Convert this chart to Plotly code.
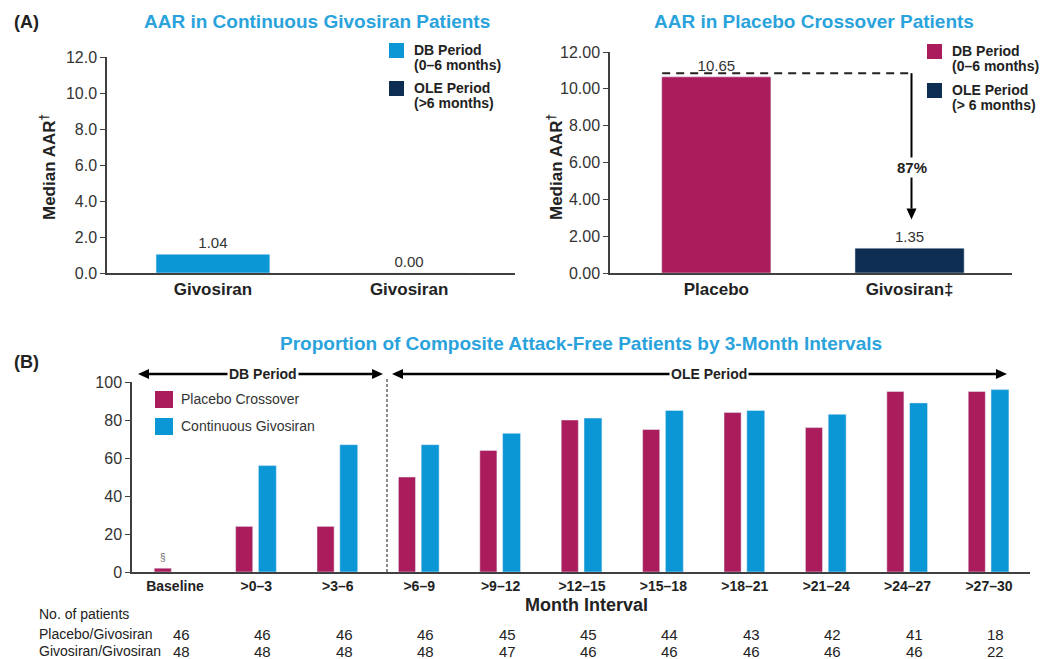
import plotly.graph_objects as go

# ---- data -------------------------------------------------------------
# Panel A (left): continuous givosiran patients, median AAR
cont_labels = ["Givosiran", "Givosiran"]
cont_db_aar = [1.04]
cont_ole_aar = [0.00]

# Panel A (right): placebo crossover patients, median AAR
cross_labels = ["Placebo", "Givosiran‡"]
cross_db_aar = [10.65]
cross_ole_aar = [1.35]
reduction_label = "87%"

# Panel B: % attack-free patients per 3-month interval
intervals = ["Baseline", ">0–3", ">3–6", ">6–9", ">9–12", ">12–15",
             ">15–18", ">18–21", ">21–24", ">24–27", ">27–30"]
placebo_crossover = [2, 24, 24, 50, 64, 80, 75, 84, 76, 95, 95]
continuous_givosiran = [None, 56, 67, 67, 73, 81, 85, 85, 83, 89, 96]
n_placebo_givosiran = [46, 46, 46, 46, 45, 45, 44, 43, 42, 41, 18]
n_givosiran_givosiran = [48, 48, 48, 48, 47, 46, 46, 46, 46, 46, 22]

# ---- style ------------------------------------------------------------
MAGENTA = "#ab1c5d"
BLUE = "#0b96d6"
NAVY = "#0e2d52"
TITLE_BLUE = "#2aa3dc"
AXIS = "#404040"
TXT = "#222222"
FONT = "Arial, Liberation Sans, sans-serif"

W, H = 1048, 659


def py(px):
    """pixel row (from top) -> paper y"""
    return 1 - px / H


def pxx(px):
    return px / W


# axis geometry (pixel extents and data ranges)
X1_PX, X1_RANGE = (107, 515), [-0.54, 1.54]
Y1_PX, Y1_RANGE = (273, 57), [0, 12]
X2_PX, X2_RANGE = (610, 1012), [-0.55, 1.53]
Y2_PX, Y2_RANGE = (273, 52), [0, 12]
X3_PX, X3_RANGE = (132, 1030), [-0.528, 10.504]
Y3_PX, Y3_RANGE = (572, 382), [0, 100]


def units_per_px(px_ext, rng):
    return (rng[1] - rng[0]) / abs(px_ext[1] - px_ext[0])


fig = go.Figure()

# ---- Panel A left -----------------------------------------------------
fig.add_trace(go.Bar(
    x=[0], y=cont_db_aar, width=0.58, marker_color=BLUE, name="DB Period",
    text=[f"{v:.2f}" for v in cont_db_aar], textposition="outside",
    textfont=dict(size=15, color="#333"), cliponaxis=False,
    xaxis="x", yaxis="y", showlegend=False))
fig.add_trace(go.Bar(
    x=[1], y=cont_ole_aar, width=0.58, marker_color=NAVY, name="OLE Period",
    text=[f"{v:.2f}" for v in cont_ole_aar], textposition="outside",
    textfont=dict(size=15, color="#333"), cliponaxis=False,
    xaxis="x", yaxis="y", showlegend=False))

# ---- Panel A right ----------------------------------------------------
fig.add_trace(go.Bar(
    x=[0], y=cross_db_aar, width=0.565, marker_color=MAGENTA, name="DB Period",
    text=[f"{v:.2f}" for v in cross_db_aar], textposition="outside",
    textfont=dict(size=15, color="#333"), cliponaxis=False,
    xaxis="x2", yaxis="y2", showlegend=False))
fig.add_trace(go.Bar(
    x=[1], y=cross_ole_aar, width=0.565, marker_color=NAVY, name="OLE Period",
    text=[f"{v:.2f}" for v in cross_ole_aar], textposition="outside",
    textfont=dict(size=15, color="#333"), cliponaxis=False,
    xaxis="x2", yaxis="y2", showlegend=False))

# ---- Panel B ----------------------------------------------------------
xi = list(range(len(intervals)))
fig.add_trace(go.Bar(
    x=xi, y=placebo_crossover, width=0.21, offset=-0.255,
    marker_color=MAGENTA, name="Placebo Crossover",
    xaxis="x3", yaxis="y3", showlegend=False))
fig.add_trace(go.Bar(
    x=xi, y=continuous_givosiran, width=0.22, offset=0.025,
    marker_color=BLUE, name="Continuous Givosiran",
    xaxis="x3", yaxis="y3", showlegend=False))

axis_common = dict(showline=True, linecolor=AXIS, linewidth=1.5,
                   showgrid=False, zeroline=False, automargin=False)

fig.update_layout(
    width=W, height=H,
    margin=dict(l=0, r=0, t=0, b=0, pad=0, autoexpand=False),
    paper_bgcolor="white", plot_bgcolor="white",
    font=dict(family=FONT, color=TXT),
    barmode="overlay",
    xaxis=dict(domain=[pxx(X1_PX[0]), pxx(X1_PX[1])], range=X1_RANGE,
               tickvals=[0, 1], ticktext=cont_labels, ticks="",
               tickfont=dict(size=17, color=TXT, family=FONT, weight="bold"),
               anchor="y", **axis_common),
    yaxis=dict(domain=[py(Y1_PX[0]), py(Y1_PX[1])], range=Y1_RANGE, dtick=2,
               tickformat=".1f", ticks="outside", ticklen=5, tickcolor=AXIS,
               tickfont=dict(size=16, color="#333"), anchor="x",
               **axis_common),
    xaxis2=dict(domain=[pxx(X2_PX[0]), pxx(X2_PX[1])], range=X2_RANGE,
                tickvals=[0, 1], ticktext=cross_labels, ticks="",
                tickfont=dict(size=17, color=TXT, family=FONT, weight="bold"),
                anchor="y2", **axis_common),
    yaxis2=dict(domain=[py(Y2_PX[0]), py(Y2_PX[1])], range=Y2_RANGE, dtick=2,
                tickformat=".2f", ticks="outside", ticklen=5, tickcolor=AXIS,
                tickfont=dict(size=16, color="#333"), anchor="x2",
                **axis_common),
    xaxis3=dict(domain=[pxx(X3_PX[0]), pxx(X3_PX[1])], range=X3_RANGE,
                tickvals=xi, ticktext=intervals, ticks="",
                tickfont=dict(size=14, color=TXT, family=FONT, weight="bold"),
                anchor="y3", **axis_common),
    yaxis3=dict(domain=[py(Y3_PX[0]), py(Y3_PX[1])], range=Y3_RANGE, dtick=20,
                ticks="outside", ticklen=5, tickcolor=AXIS,
                tickfont=dict(size=16, color="#333"), anchor="x3",
                **axis_common),
)

ann = []
shapes = []


def text(x, y, s, size=14, bold=False, color=TXT, xanchor="left",
         xref="paper", yref="paper", **kw):
    ann.append(dict(x=x, y=y, xref=xref, yref=yref, text=s, showarrow=False,
                    xanchor=xanchor, yanchor="middle",
                    font=dict(size=size, color=color, family=FONT,
                              weight="bold" if bold else "normal"), **kw))


# panel letters and titles
text(pxx(12), py(22), "(A)", size=18, bold=True)
text(pxx(12), py(362), "(B)", size=18, bold=True)
text(pxx(317), py(22), "AAR in Continuous Givosiran Patients", size=19,
     bold=True, color=TITLE_BLUE, xanchor="center")
text(pxx(814), py(22), "AAR in Placebo Crossover Patients", size=19,
     bold=True, color=TITLE_BLUE, xanchor="center")
text(pxx(581), py(343),
     "Proportion of Composite Attack-Free Patients by 3-Month Intervals",
     size=19, bold=True, color=TITLE_BLUE, xanchor="center")

# y-axis titles for panel A
for xc in (48, 555):
    text(pxx(xc), py(167), "Median AAR<sup>†</sup>", size=17, bold=True,
         xanchor="center", textangle=-90)


# legends for panel A (swatch + two-line label)
def legend_item(x0, y0, size, color, line1, line2):
    shapes.append(dict(type="rect", xref="paper", yref="paper",
                       x0=pxx(x0), x1=pxx(x0 + size),
                       y0=py(y0 + size), y1=py(y0),
                       fillcolor=color, line=dict(width=0)))
    text(pxx(x0 + size + 8), py(y0 + 7), line1, size=14, bold=True)
    text(pxx(x0 + size + 8), py(y0 + 22), line2, size=14, bold=True)


legend_item(389, 43, 15, BLUE, "DB Period", "(0–6 months)")
legend_item(389, 81, 15, NAVY, "OLE Period", "(>6 months)")
legend_item(927, 44, 15, MAGENTA, "DB Period", "(0–6 months)")
legend_item(927, 83, 15, NAVY, "OLE Period", "(> 6 months)")


def head_path(tip_x, tip_y, dx, dy, half_x, half_y):
    """triangle with tip at (tip_x, tip_y) and base centred at tip-(dx,dy)"""
    bx, by = tip_x - dx, tip_y - dy
    return (f"M {tip_x},{tip_y} L {bx + half_x},{by + half_y} "
            f"L {bx - half_x},{by - half_y} Z")


# reduction arrow in placebo crossover chart
ux2 = units_per_px(X2_PX, X2_RANGE)
uy2 = units_per_px(Y2_PX, Y2_RANGE)
ref_level = cross_db_aar[0] + 0.2
arrow_x = 1.01
tip_y = cross_ole_aar[0] + 1.55
head_len = 11 * uy2
shapes.append(dict(type="line", xref="x2", yref="y2",
                   x0=-0.28, x1=arrow_x, y0=ref_level, y1=ref_level,
                   line=dict(color="#222", width=2, dash="8px,6px")))
shapes.append(dict(type="line", xref="x2", yref="y2",
                   x0=arrow_x, x1=arrow_x, y0=ref_level, y1=tip_y + head_len,
                   line=dict(color="black", width=2)))
shapes.append(dict(type="path", xref="x2", yref="y2",
                   path=head_path(arrow_x, tip_y, 0, -head_len, 5 * ux2, 0),
                   fillcolor="black", line=dict(width=0)))
text(arrow_x, 5.75, reduction_label, size=15, bold=True,
     xanchor="center", xref="x2", yref="y2", bgcolor="white")

# panel B legend
for yy, col, lab in ((391, MAGENTA, "Placebo Crossover"),
                     (418, BLUE, "Continuous Givosiran")):
    shapes.append(dict(type="rect", xref="paper", yref="paper",
                       x0=pxx(155), x1=pxx(173), y0=py(yy + 17), y1=py(yy),
                       fillcolor=col, line=dict(width=0)))
    text(pxx(179), py(yy + 8), lab, size=14, color="#333")

# period separator and period arrows in panel B
ux3 = units_per_px(X3_PX, X3_RANGE)
period_split = 2.605
shapes.append(dict(type="line", xref="x3", yref="paper",
                   x0=period_split, x1=period_split, y0=py(572), y1=py(378),
                   line=dict(color="#666", width=1.5, dash="3px,2px")))
arrow_row = py(374)


def double_arrow(left, right, mid, label):
    hl = 11 * ux3
    shapes.append(dict(type="line", xref="x3", yref="paper",
                       x0=left + hl, x1=right - hl, y0=arrow_row, y1=arrow_row,
                       line=dict(color="black", width=2.5)))
    for tip, d in ((left, -hl), (right, hl)):
        shapes.append(dict(type="path", xref="x3", yref="paper",
                           path=head_path(tip, arrow_row, d, 0, 0, 5 / H),
                           fillcolor="black", line=dict(width=0)))
    text(mid, arrow_row, label, size=14, bold=True, xanchor="center",
         xref="x3", bgcolor="white")


double_arrow(-0.454, 2.556, 1.081, "DB Period")
double_arrow(2.666, 10.221, 6.56, "OLE Period")

# section symbol above the baseline bar
text(-0.15, 7.5, "§", size=10, color="#666", xanchor="center",
     xref="x3", yref="y3")

# x-axis title and number-of-patients table
text(pxx(586), py(605), "Month Interval", size=18, bold=True,
     xanchor="center")
text(pxx(37), py(614), "No. of patients", size=14)
text(pxx(37), py(634), "Placebo/Givosiran", size=14)
text(pxx(37), py(651), "Givosiran/Givosiran", size=14)
for i in xi:
    text(i + 0.08, py(634), str(n_placebo_givosiran[i]), size=15,
         xanchor="center", xref="x3")
    text(i + 0.08, py(651), str(n_givosiran_givosiran[i]), size=15,
         xanchor="center", xref="x3")

fig.update_layout(annotations=ann, shapes=shapes)
fig.write_html("out.html")
